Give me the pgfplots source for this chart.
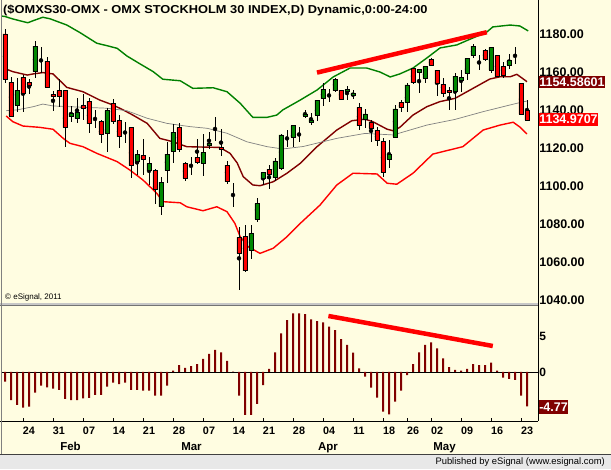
\documentclass[border=0pt]{standalone}
\usepackage{pgfplots}
\pgfplotsset{compat=1.18}
\usepackage{pgfplotstable}
\usepackage{fontspec}
\setmainfont{Liberation Sans}
\definecolor{bg}{RGB}{255,253,225}
\definecolor{cgreen}{RGB}{0,136,0}
\definecolor{bgreen}{RGB}{0,128,0}
\definecolor{maroon}{RGB}{128,0,0}
\definecolor{cred}{RGB}{255,0,0}
\definecolor{sbar}{RGB}{232,232,232}
\definecolor{midgray}{RGB}{128,128,128}

\pgfplotstableread{
i o h l c
0 1180.4 1182.8 1154.4 1156.5
1 1154.9 1157.5 1136.6 1137.1
2 1142.9 1157.0 1139.4 1150.8
3 1157.5 1158.7 1139.0 1149.1
4 1154.7 1156.5 1148.7 1153.3
5 1160.5 1176.8 1157.0 1174.0
6 1166.3 1173.3 1159.6 1166.3
7 1166.0 1168.1 1152.0 1152.2
8 1148.5 1150.3 1139.9 1147.3
9 1150.6 1156.5 1142.0 1147.4
10 1150.6 1151.0 1120.9 1131.1
11 1136.7 1142.4 1133.9 1138.5
12 1135.7 1146.4 1133.6 1139.0
13 1142.5 1148.7 1135.0 1141.2
14 1145.0 1146.8 1128.0 1133.0
15 1135.1 1140.3 1130.8 1135.1
16 1134.1 1135.0 1122.7 1127.6
17 1128.0 1141.2 1118.3 1139.9
18 1143.8 1145.9 1133.0 1134.1
19 1134.6 1137.6 1120.0 1126.2
20 1128.5 1134.1 1122.7 1128.5
21 1131.0 1131.2 1104.2 1110.9
22 1113.0 1119.2 1106.0 1116.7
23 1116.4 1124.8 1106.0 1114.2
24 1108.4 1115.6 1100.7 1112.1
25 1108.2 1109.0 1090.5 1098.4
26 1089.2 1105.1 1084.9 1102.1
27 1108.4 1123.5 1101.9 1117.0
28 1118.6 1132.9 1112.1 1128.5
29 1131.1 1133.3 1118.0 1119.5
30 1112.1 1113.0 1103.0 1104.2
31 1110.7 1115.6 1106.0 1110.7
32 1115.3 1124.8 1111.8 1112.7
33 1112.1 1127.6 1105.6 1117.9
34 1121.6 1128.5 1119.5 1122.7
35 1126.5 1136.4 1124.1 1126.5
36 1120.4 1130.1 1116.0 1119.5
37 1111.2 1113.4 1101.2 1102.5
38 1092.2 1101.6 1089.2 1092.2
39 1073.1 1078.7 1045.3 1064.6
40 1073.6 1079.6 1055.0 1055.4
41 1066.0 1079.6 1061.5 1075.2
42 1082.6 1093.7 1081.3 1091.0
43 1104.2 1107.7 1100.7 1107.2
44 1109.0 1111.2 1098.4 1106.4
45 1104.5 1115.1 1102.8 1113.4
46 1109.5 1127.5 1108.6 1127.1
47 1127.1 1129.7 1120.9 1127.1
48 1125.9 1132.3 1120.9 1132.0
49 1131.0 1131.2 1123.5 1131.0
50 1137.1 1140.3 1135.9 1138.2
51 1133.8 1138.5 1132.3 1135.0
52 1137.6 1145.5 1134.5 1145.5
53 1146.4 1154.3 1142.4 1151.2
54 1149.6 1151.3 1144.6 1149.6
55 1150.5 1157.0 1150.0 1156.5
56 1150.8 1151.0 1145.5 1145.9
57 1150.1 1152.9 1145.5 1151.2
58 1148.0 1150.8 1145.9 1149.3
59 1141.7 1143.8 1129.7 1132.0
60 1135.4 1141.0 1131.0 1138.2
61 1133.8 1135.0 1123.5 1130.6
62 1129.7 1131.1 1121.3 1124.4
63 1123.5 1125.3 1105.1 1107.2
64 1114.2 1124.4 1109.5 1117.0
65 1125.9 1142.9 1125.5 1140.8
66 1144.3 1145.5 1139.4 1141.5
67 1144.2 1154.3 1139.4 1153.5
68 1162.1 1162.3 1154.0 1154.6
69 1160.2 1161.9 1149.1 1161.7
70 1157.0 1163.3 1154.5 1163.1
71 1167.0 1167.5 1163.5 1163.9
72 1161.3 1161.5 1147.7 1154.3
73 1153.8 1157.0 1147.3 1149.1
74 1150.8 1152.6 1140.3 1149.6
75 1150.3 1159.6 1140.3 1158.2
76 1155.8 1161.3 1150.0 1157.4
77 1159.6 1167.5 1156.1 1167.5
78 1169.0 1174.9 1167.5 1174.0
79 1167.2 1169.3 1161.4 1167.2
80 1171.9 1172.5 1166.0 1167.0
81 1161.4 1173.3 1160.0 1173.3
82 1169.0 1169.0 1157.5 1157.9
83 1163.1 1165.7 1157.0 1158.4
84 1163.9 1169.7 1162.0 1166.3
85 1167.5 1173.3 1164.4 1167.5
86 1154.4 1154.6 1137.5 1138.0
87 1139.9 1145.5 1134.97 1134.97
}\candles

\pgfplotstableread{
i v
-0.5 1189.8
0 1189.6
1.3 1188.3
3.8 1186.3
4.7 1187.4
6.3 1189.2
7.5 1188.4
10.3 1185.1
12.5 1181.1
15.3 1175.5
17 1174.2
18.7 1172.8
20.3 1168.8
22.5 1164.6
24.7 1160.5
26.3 1156.5
29.2 1155.7
31.3 1151.7
34.7 1152.0
37 1149.9
39.2 1143.8
41.3 1136.4
43.7 1136.4
45.3 1137.6
46.3 1140.3
49.2 1145.5
52 1150.8
54.7 1157.7
57.5 1162.4
60.3 1162.4
62.5 1160.3
64.2 1157.7
65.8 1159.3
68 1162.4
70.3 1167.7
72.5 1173.0
75.3 1174.6
78 1178.3
80.3 1181.4
81.3 1184.1
84.2 1185.1
85.8 1184.6
87.2 1182.0
}\bandupper

\pgfplotstableread{
i v
0.3 1161.7
1.3 1160.5
3.7 1158.7
4.7 1159.3
6.3 1160.0
8 1159.3
10.3 1152.2
13 1149.9
15.8 1145.5
18 1142.9
19.7 1140.3
21.3 1137.6
23.7 1133.2
25.8 1125.3
28 1123.5
30.3 1120.9
35.8 1120.5
37.5 1117.4
38.7 1112.3
39.7 1105.1
41.3 1100.7
42.5 1100.3
44.7 1102.4
47 1106.9
49.2 1112.1
52 1120.9
55.3 1129.7
57.8 1134.6
60 1135.4
61.3 1134.1
63.7 1130.1
64.7 1129.3
65.8 1131.1
68 1137.6
70.3 1142.0
72.5 1144.7
75 1146.4
77.5 1150.8
80.8 1156.6
82.5 1157.8
84.2 1157.8
85.3 1159.1
87 1155.2
}\bandmid

\pgfplotstableread{
i v
0.2 1139.9
2 1140.3
4.7 1142.0
6.3 1143.4
8 1142.4
13 1141.7
17 1141.2
20.3 1139.9
23.7 1135.9
27 1133.2
30.8 1131.5
33.7 1130.6
37 1128.0
40.3 1123.5
43.7 1120.9
46.3 1119.7
49.7 1121.0
55.3 1125.3
60 1127.9
64.7 1127.1
70.3 1132.3
75 1135.3
79.7 1139.4
85.3 1143.8
87 1145.0
}\bandslow

\pgfplotstableread{
i v
0.2 1137.1
1.3 1134.1
3 1131.8
5.8 1131.1
8 1130.1
9.7 1125.3
10.8 1122.7
13 1120.9
15.3 1117.4
18.7 1113.0
20.8 1108.6
23 1103.3
25.3 1096.3
26.3 1091.9
29.2 1091.3
30.3 1089.2
33 1087.1
35.3 1089.2
37 1086.6
38.3 1080.5
39.2 1073.4
40.5 1068.2
42.5 1064.6
44.7 1067.3
47 1073.4
49.2 1080.4
52.5 1090.1
55.3 1100.7
58 1106.9
62 1106.5
63.7 1101.6
65.3 1101.1
68 1106.9
71.3 1117.0
76.3 1120.9
79.7 1129.7
82.5 1132.3
84.7 1133.8
85.8 1131.3
87 1127.6
}\bandlow

\pgfplotstableread{
i v
0 -1.34
1 -3.89
2 -4.58
3 -4.95
4 -4.81
5 -2.87
6 -1.90
7 -2.13
8 -2.31
9 -2.50
10 -3.75
11 -3.89
12 -3.89
13 -3.66
14 -3.61
15 -3.19
16 -3.19
17 -2.04
18 -1.48
19 -1.67
20 -1.48
21 -2.50
22 -2.50
23 -2.59
24 -2.59
25 -3.29
26 -3.29
27 -1.90
28 0.19
29 0.97
30 0.56
31 0.83
32 1.11
33 1.81
34 2.50
35 3.06
36 2.73
37 1.53
38 0.05
39 -3.29
40 -5.97
41 -5.97
42 -4.44
43 -1.81
44 0.42
45 2.73
46 5.37
47 7.22
48 8.15
49 8.15
50 8.04
51 7.31
52 7.08
53 6.90
54 6.30
55 5.83
56 4.58
57 3.75
58 2.69
59 0.51
60 -0.65
61 -2.18
62 -3.56
63 -5.51
64 -5.88
65 -4.12
66 -2.59
67 -0.42
68 1.11
69 2.73
70 3.75
71 4.12
72 3.29
73 1.90
74 0.69
75 0.28
76 0.19
77 0.42
78 1.11
79 0.97
80 0.97
81 1.30
82 0.19
83 -0.79
84 -0.97
85 -1.11
86 -3.29
87 -4.77
}\histdata

\pgfplotsset{
  topax/.style={scale only axis, width=536pt, height=303pt, at={(2pt,166pt)}, anchor=south west,
    xmin=-0.5, xmax=88.8333, ymin=1038.417, ymax=1198.31,
    axis line style={draw=none}, major tick length=0pt, xtick=\empty, ytick=\empty},
  botax/.style={scale only axis, width=536pt, height=115.5pt, at={(2pt,47.5pt)}, anchor=south west,
    xmin=-0.5, xmax=88.8333, ymin=-6.875, ymax=9.1667,
    axis line style={draw=none}, major tick length=0pt, xtick=\empty, ytick=\empty},
}

\begin{document}
\begin{tikzpicture}
\fill[bg] (0pt,0pt) rectangle (611pt,469pt);

% price panel: bands and wicks
\begin{axis}[topax,
  ytick={1040,1060,1080,1100,1120,1140,1160,1180},
  yticklabels={1040.00,1060.00,1080.00,1100.00,1120.00,1140.00,1160.00,1180.00},
  yticklabel pos=right,
  yticklabel style={anchor=west, inner sep=0pt, xshift=1.2pt, font=\bfseries\fontsize{12.5}{13}\selectfont}]
\addplot[bgreen, line width=1.4pt] table[x=i,y=v]{\bandupper};
\addplot[maroon, line width=1.4pt] table[x=i,y=v]{\bandmid};
\addplot[midgray, line width=0.7pt] table[x=i,y=v]{\bandslow};
\addplot[cred, line width=1.4pt] table[x=i,y=v]{\bandlow};
\addplot[only marks, mark=none, error bars/.cd, y dir=both, y explicit, error mark=none,
  error bar style={black, line width=0.8pt}]
  table[x=i, y expr={(\thisrow{h}+\thisrow{l})/2}, y error expr={(\thisrow{h}-\thisrow{l})/2}]{\candles};
\end{axis}

% candle bodies
\begin{axis}[topax, ybar stacked, bar width=4.3pt]
\addplot[draw=none, fill=none] table[x=i, y expr={min(\thisrow{o},\thisrow{c})}]{\candles};
\addplot[draw=black, line width=0.7pt, fill=cred] table[x=i, y expr={max(\thisrow{o}-\thisrow{c},0)}]{\candles};
\addplot[draw=black, line width=0.7pt, fill=cgreen] table[x=i, y expr={max(\thisrow{c}-\thisrow{o},0)}]{\candles};
\end{axis}

% trend line on price
\begin{axis}[topax]
\addplot[cred, line width=4.5pt] coordinates {(52,1160.0) (80.3,1181.3)};
\end{axis}

% oscillator panel
\begin{axis}[botax,
  ytick={0,5}, yticklabels={0,5}, yticklabel pos=right,
  yticklabel style={anchor=west, inner sep=0pt, xshift=1.2pt, font=\bfseries\fontsize{12}{13}\selectfont},
  xtick={4,9,14,19,24,29,34,39,44,49,54,59,64,68,72,77,82,87},
  xticklabels={24,31,07,14,21,28,07,14,21,28,04,11,18,26,02,09,16,23},
  xticklabel style={anchor=base, inner sep=0pt, yshift=-13.5pt, font=\bfseries\fontsize{10.8}{12}\selectfont},
  minor xtick={3,8,13,18,23,28,33,38,43,48,53,58,63,67,71,76,81,86},
  minor tick length=3pt, tick align=inside, xtick pos=left,
  minor tick style={black, line width=0.8pt}]
\draw[black, line width=0.8pt] (axis cs:-0.5,0) -- (axis cs:88.8333,0);
\addplot[ybar, bar width=2pt, fill=maroon, draw=none] table[x=i,y=v]{\histdata};
\addplot[cred, line width=4.5pt] coordinates {(53.9,7.78) (81.3,3.61)};
\end{axis}

% frame lines
\fill[black!22] (0pt,163pt) rectangle (538pt,166.3pt);
\draw[black!55, line width=0.9pt] (0pt,164pt) -- (538pt,164pt);
\draw[black, line width=0.9pt] (538pt,469pt) -- (538pt,47.5pt);
\draw[black, line width=0.9pt] (0pt,47.5pt) -- (538pt,47.5pt);
\draw[black!50, line width=1.2pt] (1.4pt,469pt) -- (1.4pt,15pt);
\fill[sbar] (0pt,0pt) rectangle (611pt,14pt);
\draw[black!75, line width=1.2pt] (0pt,14.4pt) -- (611pt,14.4pt);

% texts
\node[anchor=base west, inner sep=0pt, font=\bfseries\fontsize{11.5}{12}\selectfont] at (3pt,455pt)
  {\scalebox{1.115}[1]{(\$OMXS30-OMX - OMX STOCKHOLM 30 INDEX,D) Dynamic,0:00-24:00}};
\node[anchor=base west, inner sep=0pt, font=\fontsize{8}{9}\selectfont] at (5pt,169.5pt) {\textcopyright\ eSignal, 2011};
\node[anchor=base, inner sep=0pt, font=\bfseries\fontsize{11.5}{12}\selectfont] at (70.5pt,19pt) {Feb};
\node[anchor=base, inner sep=0pt, font=\bfseries\fontsize{11.5}{12}\selectfont] at (191.5pt,19pt) {Mar};
\node[anchor=base, inner sep=0pt, font=\bfseries\fontsize{11.5}{12}\selectfont] at (328pt,19pt) {Apr};
\node[anchor=base, inner sep=0pt, font=\bfseries\fontsize{11.5}{12}\selectfont] at (444.5pt,19pt) {May};
\node[anchor=base east, inner sep=0pt, font=\fontsize{9.4}{10}\selectfont] at (605pt,4.5pt) {Published by eSignal (www.esignal.com)};

\node[fill=maroon, text=white, anchor=west, inner xsep=0.6pt, inner ysep=0pt, minimum height=11.5pt,
  font=\bfseries\fontsize{12.5}{13}\selectfont] at (538.5pt,387pt) {1154.58601};
\node[fill=cred, text=white, anchor=west, inner xsep=0.6pt, inner ysep=0pt, minimum height=13pt,
  font=\bfseries\fontsize{12.5}{13}\selectfont] at (538.5pt,349.5pt) {1134.9707};
\node[fill=maroon, text=white, anchor=west, inner xsep=0.6pt, inner ysep=0pt, minimum height=14pt,
  font=\bfseries\fontsize{12.5}{13}\selectfont] at (538.5pt,62pt) {-4.77};

\pgfresetboundingbox
\path (0pt,0pt) rectangle (611pt,469pt);
\end{tikzpicture}
\end{document}
